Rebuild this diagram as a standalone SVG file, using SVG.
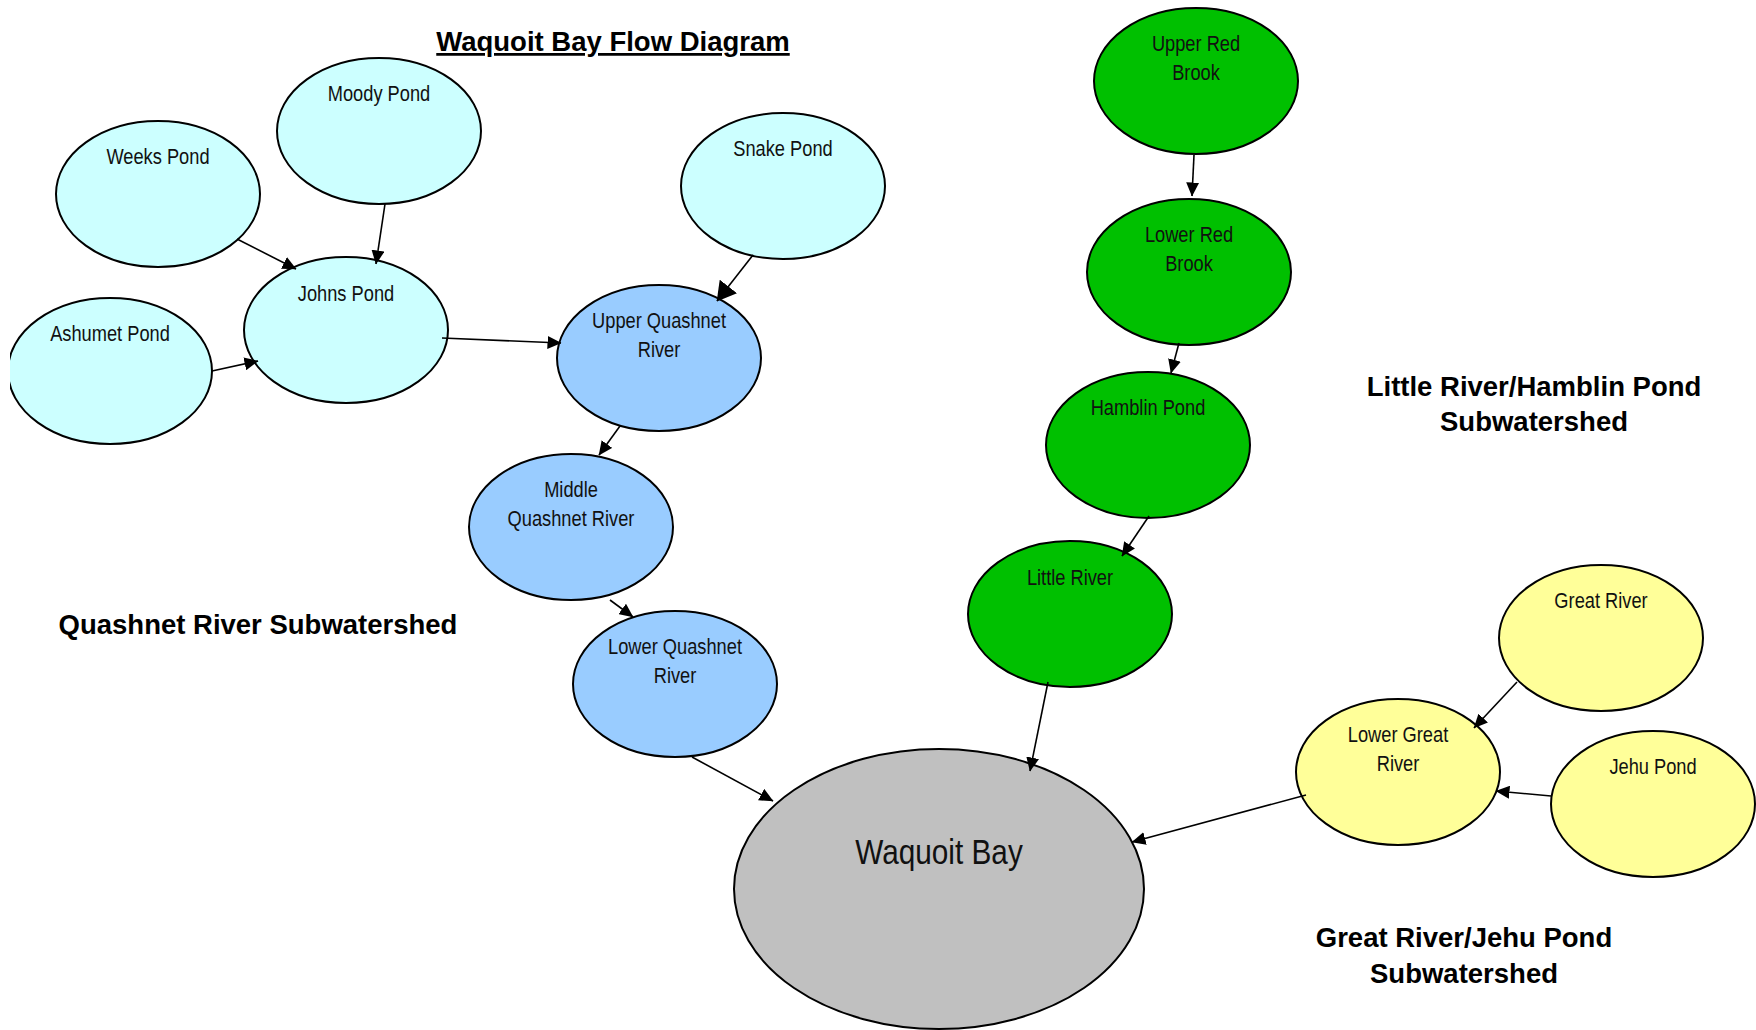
<svg xmlns="http://www.w3.org/2000/svg" width="1756" height="1030" viewBox="0 0 1756 1030">
<defs>
<style>
.n{stroke:#000;stroke-width:2}
.cy{fill:#CCFFFF}.bl{fill:#99CCFF}.gr{fill:#00C000}.ye{fill:#FFFF99}.gy{fill:#C0C0C0}
.t{font-family:"Liberation Sans",Arial,sans-serif;font-size:22px;fill:#111;text-anchor:middle}
.h{font-family:"Liberation Sans",Arial,sans-serif;font-weight:bold;font-size:27.5px;fill:#000;text-anchor:middle}
.c line{stroke:#000;stroke-width:1.6;marker-end:url(#a)}
</style>
<marker id="a" viewBox="0 0 14 13" refX="13.5" refY="6.5" markerWidth="14" markerHeight="13" markerUnits="userSpaceOnUse" orient="auto"><path d="M0,0L14,6.5L0,13z" fill="#000"/></marker>
<marker id="b" viewBox="0 0 19 22" refX="18.5" refY="11" markerWidth="19" markerHeight="22" markerUnits="userSpaceOnUse" orient="auto"><path d="M0,0L19,11L0,22z" fill="#000"/></marker>
<clipPath id="cl"><rect x="10" y="0" width="1746" height="1030"/></clipPath>
</defs>
<rect width="1756" height="1030" fill="#fff"/>
<text class="h" x="613" y="51" text-decoration="underline">Waquoit Bay Flow Diagram</text>
<text class="h" x="258" y="634">Quashnet River Subwatershed</text>
<text class="h" x="1534" y="396">Little River/Hamblin Pond</text>
<text class="h" x="1534" y="431">Subwatershed</text>
<text class="h" x="1464" y="947">Great River/Jehu Pond</text>
<text class="h" x="1464" y="983">Subwatershed</text>
<g id="weeks"><ellipse class="n cy" cx="158" cy="194" rx="102" ry="73"/><text class="t" transform="translate(158 164) scale(.83 1)">Weeks Pond</text></g>
<g id="moody"><ellipse class="n cy" cx="379" cy="131" rx="102" ry="73"/><text class="t" transform="translate(379 101) scale(.83 1)">Moody Pond</text></g>
<g id="johns"><ellipse class="n cy" cx="346" cy="330" rx="102" ry="73"/><text class="t" transform="translate(346 301) scale(.83 1)">Johns Pond</text></g>
<g id="ashumet" clip-path="url(#cl)"><ellipse class="n cy" cx="110" cy="371" rx="102" ry="73"/><text class="t" transform="translate(110 341) scale(.83 1)">Ashumet Pond</text></g>
<g id="snake"><ellipse class="n cy" cx="783" cy="186" rx="102" ry="73"/><text class="t" transform="translate(783 156) scale(.83 1)">Snake Pond</text></g>
<g id="upperq"><ellipse class="n bl" cx="659" cy="358" rx="102" ry="73"/><text class="t" transform="translate(659 328) scale(.83 1)">Upper Quashnet</text><text class="t" transform="translate(659 357) scale(.83 1)">River</text></g>
<g id="middleq"><ellipse class="n bl" cx="571" cy="527" rx="102" ry="73"/><text class="t" transform="translate(571 497) scale(.83 1)">Middle</text><text class="t" transform="translate(571 526) scale(.83 1)">Quashnet River</text></g>
<g id="lowerq"><ellipse class="n bl" cx="675" cy="684" rx="102" ry="73"/><text class="t" transform="translate(675 654) scale(.83 1)">Lower Quashnet</text><text class="t" transform="translate(675 683) scale(.83 1)">River</text></g>
<g id="upperred"><ellipse class="n gr" cx="1196" cy="81" rx="102" ry="73"/><text class="t" transform="translate(1196 51) scale(.83 1)">Upper Red</text><text class="t" transform="translate(1196 80) scale(.83 1)">Brook</text></g>
<g id="lowerred"><ellipse class="n gr" cx="1189" cy="272" rx="102" ry="73"/><text class="t" transform="translate(1189 242) scale(.83 1)">Lower Red</text><text class="t" transform="translate(1189 271) scale(.83 1)">Brook</text></g>
<g id="hamblin"><ellipse class="n gr" cx="1148" cy="445" rx="102" ry="73"/><text class="t" transform="translate(1148 415) scale(.83 1)">Hamblin Pond</text></g>
<g id="little"><ellipse class="n gr" cx="1070" cy="614" rx="102" ry="73"/><text class="t" transform="translate(1070 585) scale(.83 1)">Little River</text></g>
<g id="great"><ellipse class="n ye" cx="1601" cy="638" rx="102" ry="73"/><text class="t" transform="translate(1601 608) scale(.83 1)">Great River</text></g>
<g id="lowergreat"><ellipse class="n ye" cx="1398" cy="772" rx="102" ry="73"/><text class="t" transform="translate(1398 742) scale(.83 1)">Lower Great</text><text class="t" transform="translate(1398 771) scale(.83 1)">River</text></g>
<g id="jehu"><ellipse class="n ye" cx="1653" cy="804" rx="102" ry="73"/><text class="t" transform="translate(1653 774) scale(.83 1)">Jehu Pond</text></g>
<g id="waquoit"><ellipse class="n gy" cx="939" cy="889" rx="205" ry="140"/><text class="t" transform="translate(939 864) scale(.85 1)" style="font-size:35px">Waquoit Bay</text></g>
<g class="c" id="connectors">
<line x1="237" y1="239" x2="296" y2="269"/>
<line x1="385" y1="204" x2="376" y2="264"/>
<line x1="212" y1="371" x2="258" y2="361"/>
<line x1="442" y1="338" x2="561" y2="343"/>
<line x1="753" y1="255" x2="717" y2="301" style="marker-end:url(#b)"/>
<line x1="620" y1="426" x2="599" y2="455"/>
<line x1="610" y1="600" x2="633" y2="617"/>
<line x1="692" y1="757" x2="773" y2="801"/>
<line x1="1194" y1="155" x2="1192" y2="196"/>
<line x1="1179" y1="343" x2="1171" y2="373"/>
<line x1="1149" y1="516" x2="1122" y2="556"/>
<line x1="1048" y1="682" x2="1030" y2="771"/>
<line x1="1306" y1="795" x2="1132" y2="842"/>
<line x1="1517" y1="682" x2="1474" y2="728"/>
<line x1="1551" y1="796" x2="1496" y2="791"/>
</g>
</svg>
